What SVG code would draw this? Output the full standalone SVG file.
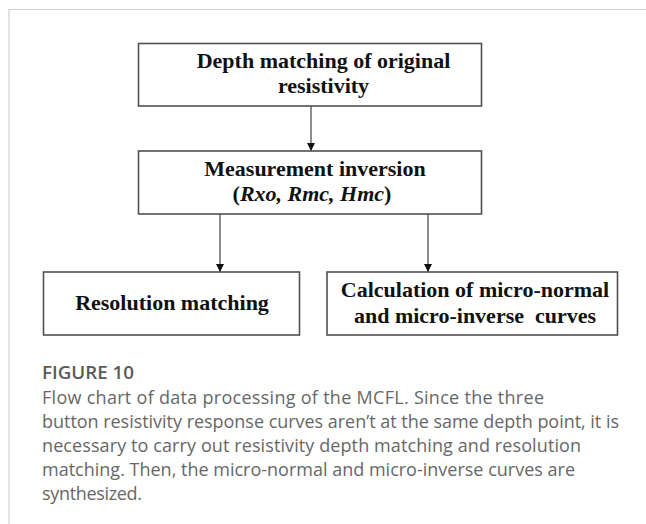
<svg xmlns="http://www.w3.org/2000/svg" width="646" height="524" viewBox="0 0 646 524">
  <defs>
    <marker id="arrowhead" viewBox="0 0 10 10" refX="10" refY="5" markerWidth="8" markerHeight="9" markerUnits="userSpaceOnUse" orient="auto">
      <path d="M0,0 L10,5 L0,10 Z" fill="#111"/>
    </marker>
    <style>
      .frame { fill: none; stroke: #cfcfcf; stroke-width: 1.2; }
      .box { fill: #ffffff; stroke: #505050; stroke-width: 1.6; }
      .label { font-family: "Liberation Serif", "Times New Roman", serif; font-weight: bold; font-size: 22px; fill: #111; text-anchor: middle; }
      .label .it { font-style: italic; }
      .edge { fill: none; stroke: #444; stroke-width: 1.2; marker-end: url(#arrowhead); }
      .fig-title { font-family: "Open Sans", "Liberation Sans", sans-serif; font-weight: 600; font-size: 18.5px; fill: #5a5a5a; }
      .caption { font-family: "Open Sans", "Liberation Sans", sans-serif; font-size: 18px; fill: #676767; }
    </style>
  </defs>

  <rect width="646" height="524" fill="#ffffff"/>
  <!-- card edge (top and left) -->
  <path class="frame" d="M9,530 L9,9.5 L650,9.5"/>

  <!-- flow connectors -->
  <g id="connectors">
    <line class="edge" x1="311" y1="106" x2="311" y2="151"/>
    <line class="edge" x1="220" y1="214" x2="220" y2="272"/>
    <line class="edge" x1="428" y1="214" x2="428" y2="272"/>
  </g>

  <g id="node-depth-matching">
    <rect class="box" x="138.5" y="43.5" width="343" height="62.5"/>
    <text class="label" x="323.5" y="68">Depth matching of original</text>
    <text class="label" x="323.5" y="93">resistivity</text>
  </g>

  <g id="node-measurement-inversion">
    <rect class="box" x="138.5" y="151" width="343" height="63"/>
    <text class="label" x="315" y="176">Measurement inversion</text>
    <text class="label" x="312" y="201">(<tspan class="it">Rxo, Rmc, Hmc</tspan>)</text>
  </g>

  <g id="node-resolution-matching">
    <rect class="box" x="43.5" y="272" width="256" height="63"/>
    <text class="label" x="172" y="310">Resolution matching</text>
  </g>

  <g id="node-micro-curves">
    <rect class="box" x="327" y="272" width="290.5" height="63"/>
    <text class="label" x="475" y="297">Calculation of micro-normal</text>
    <text class="label" x="475" y="323" xml:space="preserve">and micro-inverse  curves</text>
  </g>

  <!-- figure caption -->
  <g id="caption">
    <text class="fig-title" x="42" y="379" textLength="92" lengthAdjust="spacingAndGlyphs">FIGURE 10</text>
    <text class="caption" x="42" y="404" textLength="502" lengthAdjust="spacing">Flow chart of data processing of the MCFL. Since the three</text>
    <text class="caption" x="42" y="428" textLength="577" lengthAdjust="spacing">button resistivity response curves aren’t at the same depth point, it is</text>
    <text class="caption" x="42" y="452" textLength="539" lengthAdjust="spacing">necessary to carry out resistivity depth matching and resolution</text>
    <text class="caption" x="42" y="476" textLength="533" lengthAdjust="spacing">matching. Then, the micro-normal and micro-inverse curves are</text>
    <text class="caption" x="42" y="500" textLength="100" lengthAdjust="spacing">synthesized.</text>
  </g>
</svg>
